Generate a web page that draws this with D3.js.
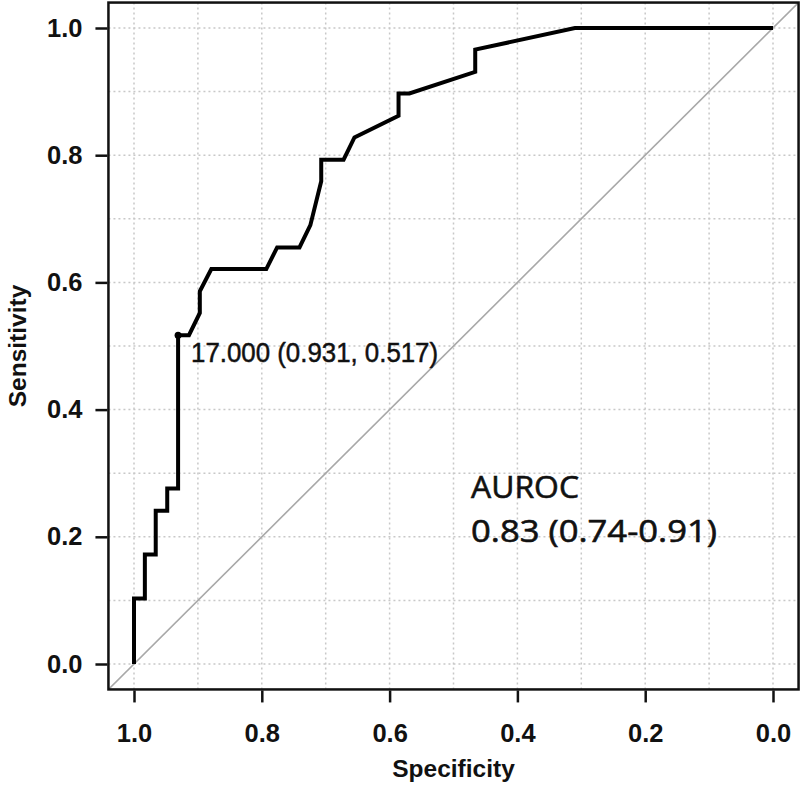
<!DOCTYPE html>
<html>
<head>
<meta charset="UTF-8">
<title>ROC</title>
<style>
  body { margin: 0; background: #fff; }
  svg { display: block; }
</style>
</head>
<body>
<div id="chart"></div>
<script src="https://cdn.jsdelivr.net/npm/d3@7/dist/d3.min.js"></script>
<script>
// ROC curve vertices
var specificity = [1.000, 1.000, 0.983, 0.983, 0.966, 0.966, 0.948, 0.948, 0.931, 0.931,
                   0.914, 0.897, 0.897, 0.879, 0.793, 0.776, 0.741, 0.724, 0.707, 0.707,
                   0.672, 0.655, 0.586, 0.586, 0.569, 0.466, 0.466, 0.310, 0.000];
var sensitivity = [0.000, 0.103, 0.103, 0.172, 0.172, 0.241, 0.241, 0.276, 0.276, 0.517,
                   0.517, 0.552, 0.586, 0.621, 0.621, 0.655, 0.655, 0.690, 0.759, 0.793,
                   0.793, 0.828, 0.862, 0.897, 0.897, 0.931, 0.966, 1.000, 1.000];
var bestPoint = { threshold: "17.000", spec: 0.931, sens: 0.517 };
var tickValues = [0, 0.2, 0.4, 0.6, 0.8, 1.0];
var gridValues = [0, 0.1, 0.2, 0.3, 0.4, 0.5, 0.6, 0.7, 0.8, 0.9, 1.0];
var aucLines = ["AUROC", "0.83 (0.74-0.91)"];

var width = 800, height = 787;
var svg = d3.select("#chart").append("svg")
    .attr("width", width)
    .attr("height", height);

var x = d3.scaleLinear().domain([1, 0]).range([134, 773]);
var y = d3.scaleLinear().domain([0, 1]).range([664, 28]);

// plot region extends 4% past the data range, like R
var x0 = x(1.04), x1 = x(-0.04), y0 = y(-0.04), y1 = y(1.04);

svg.append("defs").append("clipPath").attr("id", "clip")
  .append("rect")
    .attr("x", x0).attr("y", y1)
    .attr("width", x1 - x0).attr("height", y0 - y1);

// dotted grid
var grid = svg.append("g").attr("stroke", "#c8c8c8")
    .attr("stroke-width", 1.5)
    .attr("stroke-dasharray", "2,3");
grid.selectAll(".gx").data(gridValues).join("line")
    .attr("x1", function(d) { return x(d); })
    .attr("x2", function(d) { return x(d); })
    .attr("y1", y1).attr("y2", y0);
grid.selectAll(".gy").data(gridValues).join("line")
    .attr("class", "gy")
    .attr("y1", function(d) { return y(d); })
    .attr("y2", function(d) { return y(d); })
    .attr("x1", x0).attr("x2", x1);

// chance diagonal
svg.append("line")
    .attr("clip-path", "url(#clip)")
    .attr("x1", x(1.04)).attr("y1", y(-0.04))
    .attr("x2", x(-0.04)).attr("y2", y(1.04))
    .attr("stroke", "#a8a8a8")
    .attr("stroke-width", 1.6);

// roc curve
var pts = specificity.map(function(s, i) { return [s, sensitivity[i]]; });
var line = d3.line()
    .x(function(d) { return x(d[0]); })
    .y(function(d) { return y(d[1]); });
svg.append("path")
    .datum(pts)
    .attr("d", line)
    .attr("fill", "none")
    .attr("stroke", "#000")
    .attr("stroke-width", 4)
    .attr("stroke-linejoin", "miter");

svg.append("circle")
    .attr("cx", x(bestPoint.spec))
    .attr("cy", y(bestPoint.sens))
    .attr("r", 3.5)
    .attr("fill", "#000");

svg.append("text")
    .attr("x", x(bestPoint.spec) + 13)
    .attr("y", y(bestPoint.sens) + 27)
    .attr("font-family", "'Liberation Sans', Arial, sans-serif")
    .attr("font-size", 28)
    .attr("fill", "#111")
    .attr("stroke", "#111")
    .attr("stroke-width", 0.5)
    .attr("textLength", 247)
    .attr("lengthAdjust", "spacingAndGlyphs")
    .text(bestPoint.threshold + " (" + bestPoint.spec.toFixed(3) + ", " + bestPoint.sens.toFixed(3) + ")");

// box
svg.append("rect")
    .attr("x", x0).attr("y", y1)
    .attr("width", x1 - x0).attr("height", y0 - y1)
    .attr("fill", "none")
    .attr("stroke", "#111")
    .attr("stroke-width", 2.5);

// axes
var xAxis = d3.axisBottom(x).tickValues(tickValues).tickSize(12).tickPadding(21)
    .tickFormat(d3.format(".1f"));
var yAxis = d3.axisLeft(y).tickValues(tickValues).tickSize(12).tickPadding(13)
    .tickFormat(d3.format(".1f"));

var gx = svg.append("g").attr("transform", "translate(0," + (y0 + 1) + ")").call(xAxis);
var gy = svg.append("g").attr("transform", "translate(" + (x0 - 1) + ",0)").call(yAxis);
[gx, gy].forEach(function(g) {
  g.select(".domain").remove();
  g.selectAll("line").attr("stroke", "#111").attr("stroke-width", 2.5);
  g.selectAll("text")
    .attr("font-family", "'Liberation Sans', Arial, sans-serif")
    .attr("font-size", 25.5)
    .attr("font-weight", "bold")
    .attr("fill", "#111");
});

svg.append("text")
    .attr("x", (x(1) + x(0)) / 2)
    .attr("y", 777)
    .attr("text-anchor", "middle")
    .attr("font-family", "'Liberation Sans', Arial, sans-serif")
    .attr("font-size", 24.5)
    .attr("font-weight", "bold")
    .attr("fill", "#111")
    .text("Specificity");

svg.append("text")
    .attr("transform", "translate(26," + (y(0) + y(1)) / 2 + ") rotate(-90)")
    .attr("text-anchor", "middle")
    .attr("font-family", "'Liberation Sans', Arial, sans-serif")
    .attr("font-size", 24.5)
    .attr("font-weight", "bold")
    .attr("fill", "#111")
    .text("Sensitivity");

// AUROC annotation
var aucLen = [108, 246];
svg.selectAll(".auc").data(aucLines).join("text")
    .attr("class", "auc")
    .attr("x", 471)
    .attr("y", function(d, i) { return 498 + i * 44; })
    .attr("font-family", "'Open Sans', Lato, sans-serif")
    .attr("font-size", 31)
    .attr("fill", "#111")
    .attr("stroke", "#111")
    .attr("stroke-width", 0.6)
    .attr("textLength", function(d, i) { return aucLen[i]; })
    .attr("lengthAdjust", "spacingAndGlyphs")
    .text(function(d) { return d; });
</script>
</body>
</html>
